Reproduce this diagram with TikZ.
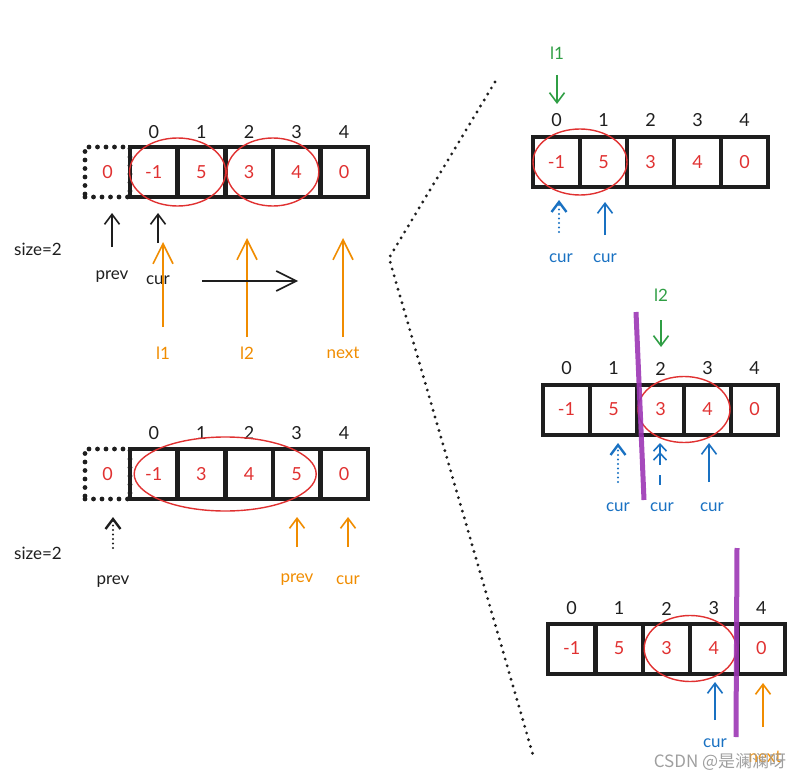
\documentclass[tikz,border=0pt]{standalone}
\usepackage{fontspec}
\setmainfont{Lato}
\newfontfamily\cjk{Noto Sans CJK SC}
\usetikzlibrary{arrows.meta,calc}

\definecolor{ink}{HTML}{1E1E1E}
\definecolor{inkred}{HTML}{E03131}
\definecolor{inkorange}{HTML}{F08C00}
\definecolor{inkgreen}{HTML}{2F9E44}
\definecolor{inkblue}{HTML}{1971C2}
\definecolor{inkpurple}{HTML}{9C36B5}

\begin{document}
\begin{tikzpicture}[x=1pt, y=-1pt,
  cell/.style={draw=ink, line width=4pt, minimum width=47pt, minimum height=50pt,
    inner sep=0pt, text=inkred, font=\fontsize{18}{20}\selectfont},
  pad/.style={cell, line width=4.8pt, dash pattern=on 0pt off 8.5pt, line cap=round, minimum width=45pt},
  idx/.style={text=ink, font=\fontsize{18}{20}\selectfont},
  tag/.style={font=\fontsize{17}{19}\selectfont},
  ring/.style={draw=inkred, line width=1.4pt},
  ptr/.style={line width=1.6pt, -{Straight Barb[length=10pt,width=15pt]}},
  long ptr/.style={line width=1.6pt, -{Straight Barb[length=20pt,width=20pt]}},
  dotptr/.style={ptr, dash pattern=on 0pt off 4.5pt, line cap=round, line width=2.4pt},
  cutline/.style={draw=inkpurple, line width=5pt, opacity=.9}]

\useasboundingbox (0,0) rectangle (806,781);

% Dotted divider between the two halves
\coordinate (split top)    at (495, 82);
\coordinate (split corner) at (389, 258);
\coordinate (split bottom) at (533, 755);
\draw[ink, line width=3.2pt, dash pattern=on 0pt off 7pt, line cap=round]
  (split top) -- (split corner) -- (split bottom);

%%% Left, top: the list before reversing
\node[pad] (A-pad) at (107.5, 172) {0};
\foreach \v [count=\i from 0] in {-1,5,3,4,0}
  \node[cell] (A-\i) at (153.8+47.6*\i, 172) {\v};
\foreach \i in {0,...,4}
  \node[idx] (A-idx-\i) at ($(A-\i)+(0,-40)$) {\i};
\draw[ring] ($(A-0)!.5!(A-1)$) ellipse [x radius=48, y radius=34];
\draw[ring] ($(A-2)!.5!(A-3)$) ellipse [x radius=46, y radius=34];

\node[tag, text=ink] (A-size) at (38, 249) {size=2};
\node[tag, text=ink] (A-prev) at (112, 277) {prev};
\node[tag, text=ink] (A-cur)  at (158, 280) {cur};
\node[tag, text=inkorange] (A-l1)   at (163, 353) {l1};
\node[tag, text=inkorange] (A-l2)   at (247, 353) {l2};
\node[tag, text=inkorange] (A-next) at (343, 353) {next};

\coordinate (A prev tail) at (112, 247);
\coordinate (A prev head) at (112, 213);
\coordinate (A cur tail)  at (158, 243);
\coordinate (A cur head)  at (158, 213);
\coordinate (A l1 tail)   at (163, 327);
\coordinate (A l1 head)   at (163, 242);
\coordinate (A l2 tail)   at (247, 337);
\coordinate (A l2 head)   at (247, 238);
\coordinate (A next tail) at (343, 337);
\coordinate (A next head) at (343, 238);
\coordinate (move from)   at (202, 281);
\coordinate (move to)     at (298, 281);

\draw[ptr, ink] (A prev tail) -- (A prev head);
\draw[ptr, ink] (A cur tail) -- (A cur head);
\draw[long ptr, inkorange] (A l1 tail) -- (A l1 head);
\draw[long ptr, inkorange] (A l2 tail) -- (A l2 head);
\draw[long ptr, inkorange] (A next tail) -- (A next head);
\draw[long ptr, ink] (move from) -- (move to);

%%% Left, bottom: the list after reversing
\node[pad] (B-pad) at (107.5, 474) {0};
\foreach \v [count=\i from 0] in {-1,3,4,5,0}
  \node[cell] (B-\i) at (153.8+47.6*\i, 474) {\v};
\foreach \i in {0,...,4}
  \node[idx] (B-idx-\i) at ($(B-\i)+(0,-41)$) {\i};
\draw[ring] ($(B-0)!.5!(B-3)$) ellipse [x radius=91, y radius=37];

\node[tag, text=ink] (B-size) at (38, 553) {size=2};
\node[tag, text=ink] (B-prev) at (113, 582) {prev};
\node[tag, text=inkorange] (B-prev2) at (297, 580) {prev};
\node[tag, text=inkorange] (B-cur)   at (348, 580) {cur};

\coordinate (B prev tail)  at (113, 548);
\coordinate (B prev head)  at (113, 517);
\coordinate (B prev2 tail) at (297, 547);
\coordinate (B prev2 head) at (297, 517);
\coordinate (B cur tail)   at (348, 547);
\coordinate (B cur head)   at (348, 517);

\draw[dotptr, ink] (B prev tail) -- (B prev head);
\draw[ptr, inkorange] (B prev2 tail) -- (B prev2 head);
\draw[ptr, inkorange] (B cur tail) -- (B cur head);

%%% Right, step 1: l1 at the first group
\foreach \v [count=\i from 0] in {-1,5,3,4,0}
  \node[cell] (C-\i) at (556.5+47*\i, 162) {\v};
\foreach \i in {0,...,4}
  \node[idx] (C-idx-\i) at ($(C-\i)+(0,-42)$) {\i};
\draw[ring] ($(C-0)!.5!(C-1)$) ellipse [x radius=47, y radius=33];

\node[tag, text=inkgreen] (C-l1) at (557, 53) {l1};
\node[tag, text=inkblue] (C-cur0) at (561, 258) {cur};
\node[tag, text=inkblue] (C-cur1) at (605, 258) {cur};

\coordinate (C l1 tail)   at (557, 75);
\coordinate (C l1 head)   at (557, 104);
\coordinate (C cur0 tail) at (559, 232);
\coordinate (C cur0 head) at (559, 200);
\coordinate (C cur1 tail) at (605, 235);
\coordinate (C cur1 head) at (605, 202);

\draw[ptr, inkgreen] (C l1 tail) -- (C l1 head);
\draw[dotptr, inkblue] (C cur0 tail) -- (C cur0 head);
\draw[ptr, inkblue] (C cur1 tail) -- (C cur1 head);

%%% Right, step 2: l2 at the second group
\foreach \v [count=\i from 0] in {-1,5,3,4,0}
  \node[cell] (D-\i) at (566.5+47*\i, 409.5) {\v};
\foreach \i in {0,...,4}
  \node[idx] (D-idx-\i) at ($(D-\i)+(0,-41)$) {\i};
\draw[ring] ($(D-2)!.5!(D-3)$) ellipse [x radius=46, y radius=33];

\node[tag, text=inkgreen] (D-l2) at (661, 295) {l2};
\node[tag, text=inkblue] (D-cur0) at (618, 507) {cur};
\node[tag, text=inkblue] (D-cur1) at (662, 507) {cur};
\node[tag, text=inkblue] (D-cur2) at (712, 507) {cur};

\coordinate (D l2 tail)   at (661, 320);
\coordinate (D l2 head)   at (661, 347);
\coordinate (D cur0 tail) at (618, 482);
\coordinate (D cur0 head) at (618, 443);
\coordinate (D cur1 tail) at (660, 465);
\coordinate (D cur1 head) at (660, 443);
\coordinate (D cur1 stub) at (660, 475);
\coordinate (D cur1 end)  at (660, 485);
\coordinate (D cur2 tail) at (709, 482);
\coordinate (D cur2 head) at (709, 443);
\coordinate (D cut top)    at (636, 312);
\coordinate (D cut bottom) at (644, 500);

\draw[ptr, inkgreen] (D l2 tail) -- (D l2 head);
\draw[dotptr, inkblue] (D cur0 tail) -- (D cur0 head);
\draw[inkblue, line width=1.6pt, -{Straight Barb[length=7pt,width=13pt] Straight Barb[length=7pt,width=13pt]}]
  (D cur1 tail) -- (D cur1 head);
\draw[inkblue, line width=1.6pt] (D cur1 stub) -- (D cur1 end);
\draw[ptr, inkblue] (D cur2 tail) -- (D cur2 head);
\draw[cutline] (D cut top) -- (D cut bottom);

%%% Right, step 3: cur runs to the group's end
\foreach \v [count=\i from 0] in {-1,5,3,4,0}
  \node[cell] (E-\i) at (571.7+47.4*\i, 648.5) {\v};
\foreach \i in {0,...,4}
  \node[idx] (E-idx-\i) at ($(E-\i)+(0,-40)$) {\i};
\draw[ring] ($(E-2)!.5!(E-3)$) ellipse [x radius=46, y radius=33];

\node[tag, text=inkblue] (E-cur) at (715, 743) {cur};
\node[tag, text=inkorange] (E-next) at (765, 757) {next};

\coordinate (E cur tail)  at (715, 720);
\coordinate (E cur head)  at (715, 682);
\coordinate (E next tail) at (763, 727);
\coordinate (E next head) at (763, 683);
\coordinate (E cut top)    at (737, 548);
\coordinate (E cut bottom) at (736, 737);

\draw[ptr, inkblue] (E cur tail) -- (E cur head);
\draw[ptr, inkorange] (E next tail) -- (E next head);
\draw[cutline] (E cut top) -- (E cut bottom);

% watermark
\node[font=\cjk\fontsize{17}{19}\selectfont, text=gray!75] (mark) at (720, 762) {CSDN @是澜澜呀};

\end{tikzpicture}
\end{document}
